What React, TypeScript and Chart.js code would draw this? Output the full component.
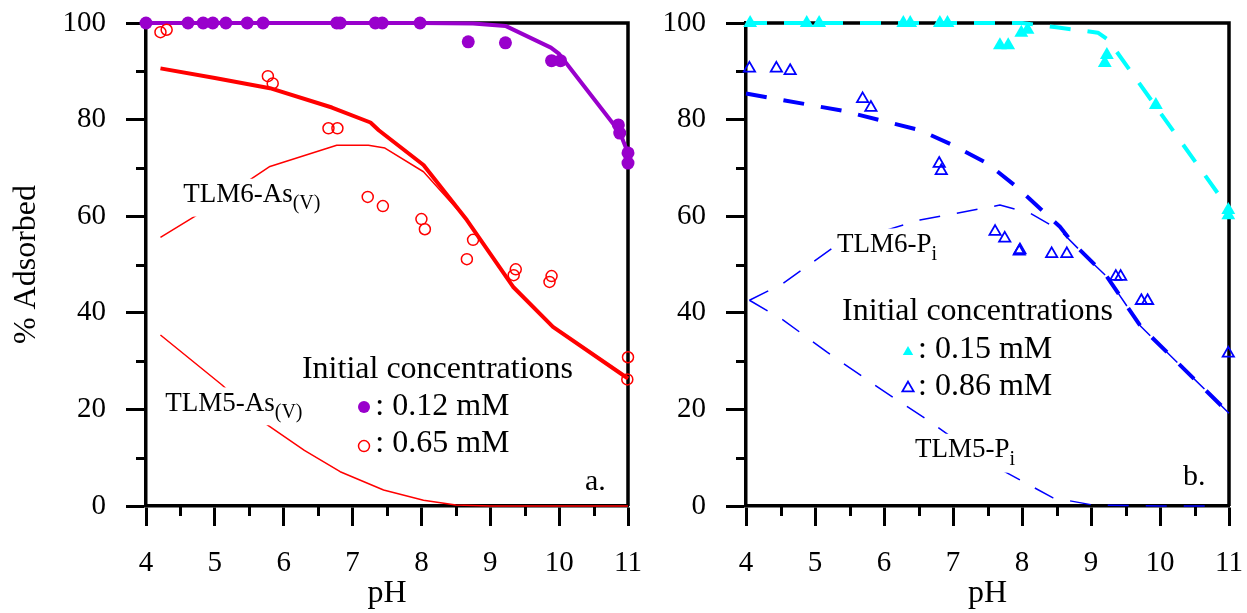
import React, { useEffect, useRef } from 'react';
import { Chart, registerables } from 'chart.js';

Chart.register(...registerables);

const FONT = "'Liberation Serif', 'Times New Roman', serif";

// ---------- shared axes ----------
const xTicks = [4, 5, 6, 7, 8, 9, 10, 11];
const xMinor = [4.5, 5.5, 6.5, 7.5, 8.5, 9.5, 10.5];
const yTicks = [0, 20, 40, 60, 80, 100];
const yMinor = [10, 30, 50, 70, 90];

// ---------- panel a : As(V) ----------
const asLowX = [4.0, 4.61, 4.83, 4.97, 5.16, 5.47, 5.70, 6.77, 6.82, 7.33, 7.43, 7.98, 8.68, 9.22, 9.89, 10.02, 10.86, 10.88, 11.0, 11.0];
const asLowY = [100, 100, 100, 100, 100, 100, 100, 100, 100, 100, 100, 100, 96.1, 95.9, 92.2, 92.2, 78.9, 77.2, 73.1, 71.0];

const asHighX = [4.21, 4.30, 5.77, 5.84, 6.65, 6.78, 7.22, 7.44, 8.0, 8.05, 8.75, 8.66, 9.37, 9.34, 9.89, 9.86, 11.0, 10.99];
const asHighY = [98.1, 98.6, 89.0, 87.5, 78.2, 78.2, 64.0, 62.1, 59.4, 57.3, 55.1, 51.1, 49.0, 47.8, 47.6, 46.4, 30.8, 26.2];

const asLowFitX = [4, 5, 6, 7, 8, 8.75, 9.22, 9.88, 10.0, 10.88, 11.0];
const asLowFitY = [100, 100, 100, 100, 100, 99.9, 99.4, 94.9, 93.6, 77.4, 73.1];

const asHighFitX = [4.21, 5.0, 5.80, 6.70, 7.26, 7.38, 8.03, 8.66, 9.33, 9.91, 11.0];
const asHighFitY = [90.6, 88.6, 86.5, 82.5, 79.4, 77.8, 70.6, 59.2, 45.4, 37.1, 26.4];

const tlm6AsX = [4.21, 4.78, 5.80, 6.77, 7.23, 7.47, 8.03, 8.66, 9.33, 9.91, 11.0];
const tlm6AsY = [55.6, 60.6, 70.3, 74.7, 74.7, 74.1, 69.2, 59.2, 45.4, 37.1, 26.4];

const tlm5AsX = [4.21, 5.10, 5.73, 6.3, 6.82, 7.45, 8.03, 8.5, 9.0, 10.0, 11.0];
const tlm5AsY = [35.4, 25.1, 17.1, 11.5, 7.1, 3.3, 1.2, 0.2, 0, 0, 0];

// ---------- panel b : Pi ----------
const piLowX = [4.06, 4.88, 5.06, 6.28, 6.38, 6.81, 6.92, 7.68, 7.80, 7.99, 8.08, 9.23, 9.20, 9.94, 10.99, 10.99];
const piLowY = [100, 100, 100, 100, 100, 100, 100, 95.4, 95.4, 98.0, 98.6, 93.4, 91.7, 83.0, 61.3, 60.2];

const piHighX = [4.05, 4.44, 4.64, 5.69, 5.81, 6.80, 6.83, 7.61, 7.75, 7.96, 7.97, 8.43, 8.65, 9.36, 9.43, 9.73, 9.82, 10.99];
const piHighY = [90.6, 90.6, 90.1, 84.3, 82.5, 70.9, 69.4, 56.8, 55.4, 52.7, 53.0, 52.2, 52.2, 47.5, 47.5, 42.5, 42.5, 31.6];

const piLowFitX = [4, 8.0, 8.5, 9.1, 9.25, 11.0];
const piLowFitY = [100, 100, 99.1, 98.0, 96.5, 61.5];

const piHighFitX = [4.0, 5.41, 6.52, 7.0, 7.49, 7.92, 8.55, 8.74, 9.23, 9.72, 11.0];
const piHighFitY = [85.4, 81.8, 77.8, 74.7, 71.0, 66.1, 57.8, 54.4, 47.5, 37.2, 19.2];

const tlm6PiX = [4.05, 4.54, 5.31, 6.52, 7.68, 8.12, 8.55, 9.03, 9.23, 9.72, 11.0];
const tlm6PiY = [42.6, 46.1, 54.0, 59.2, 62.3, 60.6, 57.1, 50.2, 47.5, 37.2, 19.2];

const tlm5PiX = [4.05, 4.54, 5.17, 5.91, 6.59, 7.49, 8.45, 9.03, 10.0, 10.75];
const tlm5PiY = [42.6, 38.5, 31.9, 24.6, 18.2, 9.1, 1.7, 0.2, 0, 0];

// ---------- colours ----------
const PURPLE = '#9900CC';
const RED = '#FF0000';
const CYAN = '#00FFFF';
const BLUE = '#0000FF';

const pts = (xs: number[], ys: number[]) => xs.map((x, i) => ({ x, y: ys[i] }));

type TextItem = { x: number; y: number; text: string; sub?: string; size: number; subSize?: number; subDy?: number; bg?: boolean };
type MarkItem = { x: number; y: number; shape: 'circle' | 'triangle'; r: number; fillColor?: string; strokeColor?: string; lw?: number };

const textsA: TextItem[] = [
  { x: 4.54, y: 62.9, text: 'TLM6-As', sub: '(V)', size: 27, subSize: 20, subDy: 7, bg: true },
  { x: 4.28, y: 19.7, text: 'TLM5-As', sub: '(V)', size: 27, subSize: 20, subDy: 7, bg: true },
  { x: 6.265, y: 26.5, text: 'Initial concentrations', size: 32 },
  { x: 7.33, y: 18.8, text: ': 0.12 mM', size: 32 },
  { x: 7.33, y: 11.2, text: ': 0.65 mM', size: 32 },
  { x: 10.375, y: 3.3, text: 'a.', size: 30 },
];
const marksA: MarkItem[] = [
  { x: 7.166, y: 20.5, shape: 'circle', r: 6, fillColor: PURPLE },
  { x: 7.166, y: 12.4, shape: 'circle', r: 5.5, strokeColor: RED, lw: 1.5 },
];

const textsB: TextItem[] = [
  { x: 5.319, y: 52.6, text: 'TLM6-P', sub: 'i', size: 27, subSize: 20, subDy: 8, bg: true },
  { x: 6.449, y: 10.1, text: 'TLM5-P', sub: 'i', size: 27, subSize: 20, subDy: 8, bg: true },
  { x: 5.391, y: 38.5, text: 'Initial concentrations', size: 32 },
  { x: 6.493, y: 30.6, text: ': 0.15 mM', size: 32 },
  { x: 6.493, y: 23.0, text: ': 0.86 mM', size: 32 },
  { x: 10.333, y: 4.3, text: 'b.', size: 30 },
];
const marksB: MarkItem[] = [
  { x: 6.348, y: 31.9, shape: 'triangle', r: 6, fillColor: CYAN },
  { x: 6.348, y: 24.4, shape: 'triangle', r: 6.5, strokeColor: BLUE, lw: 1.8 },
];

function makeDeco(texts: TextItem[], marks: MarkItem[]) {
  return {
    id: 'deco',
    beforeDatasetsDraw(chart: any) {
      const { ctx, chartArea: a, scales } = chart;
      ctx.save();
      ctx.strokeStyle = '#000';
      ctx.lineWidth = 3.5;
      ctx.beginPath();
      ctx.moveTo(a.left, a.top);
      ctx.lineTo(a.right, a.top);
      ctx.lineTo(a.right, a.bottom);
      ctx.stroke();
      ctx.lineWidth = 3;
      ctx.beginPath();
      for (const v of xMinor) {
        const px = Math.round(scales.x.getPixelForValue(v)) + 0.5;
        ctx.moveTo(px, a.bottom);
        ctx.lineTo(px, a.bottom + 10);
      }
      for (const v of yMinor) {
        const py = Math.round(scales.y.getPixelForValue(v)) + 0.5;
        ctx.moveTo(a.left, py);
        ctx.lineTo(a.left - 10, py);
      }
      ctx.stroke();
      ctx.restore();
    },
    afterDatasetsDraw(chart: any) {
      const { ctx, scales } = chart;
      ctx.save();
      for (const t of texts) {
        const px = scales.x.getPixelForValue(t.x);
        const py = scales.y.getPixelForValue(t.y);
        ctx.font = `${t.size}px ${FONT}`;
        const w1 = ctx.measureText(t.text).width;
        let w2 = 0;
        if (t.sub) {
          ctx.font = `${t.subSize}px ${FONT}`;
          w2 = ctx.measureText(t.sub).width;
        }
        if (t.bg) {
          const top = py - t.size * 0.72 - 4;
          const bottom = py + (t.sub ? (t.subDy || 0) + (t.subSize || 0) * 0.22 : t.size * 0.22) + 3;
          ctx.fillStyle = '#fff';
          ctx.fillRect(px - 4, top, w1 + w2 + 8, bottom - top);
        }
        ctx.fillStyle = '#000';
        ctx.textBaseline = 'alphabetic';
        ctx.textAlign = 'left';
        ctx.font = `${t.size}px ${FONT}`;
        ctx.fillText(t.text, px, py);
        if (t.sub) {
          ctx.font = `${t.subSize}px ${FONT}`;
          ctx.fillText(t.sub, px + w1, py + (t.subDy || 0));
        }
      }
      for (const m of marks) {
        const px = scales.x.getPixelForValue(m.x);
        const py = scales.y.getPixelForValue(m.y);
        ctx.beginPath();
        if (m.shape === 'circle') {
          ctx.arc(px, py, m.r, 0, Math.PI * 2);
        } else {
          const r = m.r;
          const s = Math.sin((2 * Math.PI) / 3) * r;
          ctx.moveTo(px, py - r);
          ctx.lineTo(px + s, py + r / 2);
          ctx.lineTo(px - s, py + r / 2);
          ctx.closePath();
        }
        if (m.fillColor) {
          ctx.fillStyle = m.fillColor;
          ctx.fill();
        }
        if (m.strokeColor) {
          ctx.strokeStyle = m.strokeColor;
          ctx.lineWidth = m.lw || 1.5;
          ctx.stroke();
        }
      }
      ctx.restore();
    },
  };
}

function scatterSet(data: any[], style: string, r: number, fill: string, stroke: string, bw: number) {
  return {
    type: 'scatter',
    data,
    showLine: false,
    pointStyle: style,
    pointRadius: r,
    pointBackgroundColor: fill,
    pointBorderColor: stroke,
    pointBorderWidth: bw,
    pointHoverRadius: r,
    clip: false,
  };
}

function lineSet(data: any[], color: string, width: number, dash: number[]) {
  return {
    type: 'line',
    data,
    borderColor: color,
    borderWidth: width,
    borderDash: dash,
    pointRadius: 0,
    pointHoverRadius: 0,
    fill: false,
    tension: 0,
    borderJoinStyle: 'round',
    borderCapStyle: 'butt',
    clip: false,
  };
}

function makeOptions(yWidth: number, padRight: number, showYTitle: boolean) {
  const tickFont = { family: FONT, size: 29 };
  return {
    animation: false,
    responsive: false,
    devicePixelRatio: 1,
    events: [],
    layout: { padding: { left: 0, right: padRight, top: 23, bottom: 0 } },
    plugins: {
      legend: { display: false },
      tooltip: { enabled: false },
    },
    scales: {
      x: {
        type: 'linear',
        min: 4,
        max: 11,
        afterBuildTicks: (s: any) => {
          s.ticks = xTicks.map((v) => ({ value: v }));
        },
        ticks: { font: tickFont, color: '#000', padding: 20, maxRotation: 0, autoSkip: false },
        grid: { drawOnChartArea: false, drawTicks: true, tickLength: 20, tickWidth: 3, tickColor: '#000' },
        border: { display: true, color: '#000', width: 3.5 },
        title: { display: true, text: 'pH', font: { family: FONT, size: 32 }, color: '#000', padding: { top: 0, bottom: 0 } },
        afterFit: (s: any) => {
          s.height = 107;
          s.paddingLeft = 0;
          s.paddingRight = 0;
        },
      },
      y: {
        type: 'linear',
        min: 0,
        max: 100,
        afterBuildTicks: (s: any) => {
          s.ticks = yTicks.map((v) => ({ value: v }));
        },
        ticks: { font: tickFont, color: '#000', padding: 20, autoSkip: false },
        grid: { drawOnChartArea: false, drawTicks: true, tickLength: 20, tickWidth: 3, tickColor: '#000' },
        border: { display: true, color: '#000', width: 3.5 },
        title: {
          display: showYTitle,
          text: '% Adsorbed',
          font: { family: FONT, size: 32 },
          color: '#000',
          padding: { top: 7, bottom: 0 },
        },
        afterFit: (s: any) => {
          s.width = yWidth;
          s.paddingTop = 0;
          s.paddingBottom = 0;
        },
      },
    },
  };
}

const DASH = [21, 17];

export default function App() {
  const refA = useRef<HTMLCanvasElement>(null);
  const refB = useRef<HTMLCanvasElement>(null);

  useEffect(() => {
    const chartA = new Chart(refA.current as HTMLCanvasElement, {
      type: 'scatter',
      data: {
        datasets: [
          scatterSet(pts(asLowX, asLowY), 'circle', 6.5, PURPLE, PURPLE, 0),
          scatterSet(pts(asHighX, asHighY), 'circle', 5.5, 'rgba(0,0,0,0)', RED, 1.5),
          lineSet(pts(asLowFitX, asLowFitY), PURPLE, 4, []),
          lineSet(pts(asHighFitX, asHighFitY), RED, 4, []),
          lineSet(pts(tlm6AsX, tlm6AsY), RED, 1.5, []),
          lineSet(pts(tlm5AsX, tlm5AsY), RED, 1.5, []),
        ] as any,
      },
      options: makeOptions(146, 17, true) as any,
      plugins: [makeDeco(textsA, marksA) as any],
    });
    const chartB = new Chart(refB.current as HTMLCanvasElement, {
      type: 'scatter',
      data: {
        datasets: [
          scatterSet(pts(piLowX, piLowY), 'triangle', 8, CYAN, CYAN, 0),
          scatterSet(pts(piHighX, piHighY), 'triangle', 6.5, 'rgba(0,0,0,0)', BLUE, 1.8),
          lineSet(pts(piLowFitX, piLowFitY), CYAN, 4, DASH),
          lineSet(pts(piHighFitX, piHighFitY), BLUE, 4, DASH),
          lineSet(pts(tlm6PiX, tlm6PiY), BLUE, 1.5, DASH),
          lineSet(pts(tlm5PiX, tlm5PiY), BLUE, 1.5, DASH),
        ] as any,
      },
      options: makeOptions(101, 18, false) as any,
      plugins: [makeDeco(textsB, marksB) as any],
    });
    return () => {
      chartA.destroy();
      chartB.destroy();
    };
  }, []);

  return (
    <div style={{ position: 'absolute', left: 0, top: 0, width: 1247, height: 613, background: '#fff' }}>
      <canvas ref={refA} width={645} height={613} style={{ position: 'absolute', left: 0, top: 0 }} />
      <canvas ref={refB} width={602} height={613} style={{ position: 'absolute', left: 645, top: 0 }} />
    </div>
  );
}
